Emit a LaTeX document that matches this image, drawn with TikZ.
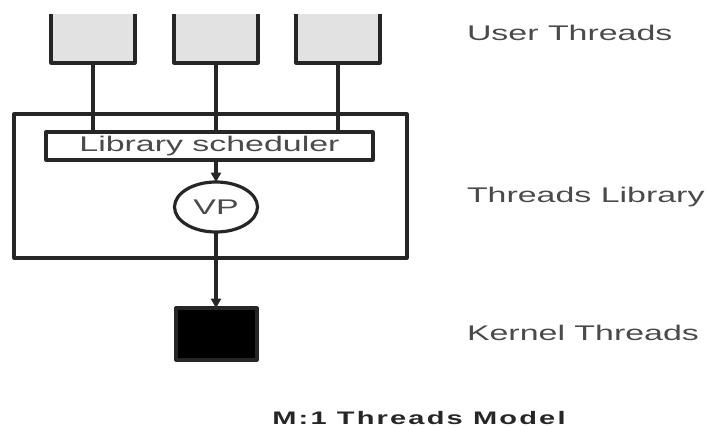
\documentclass[tikz,border=0pt]{standalone}
\usepackage{fontspec}
\setmainfont{Liberation Sans}[FakeStretch=1.6]
\newfontfamily\titlefont{Liberation Sans Bold}[FakeStretch=1.6,LetterSpace=12]
\usetikzlibrary{arrows.meta,shapes.geometric}
\definecolor{linegray}{HTML}{262626}
\definecolor{textgray}{HTML}{4A4A4A}
\definecolor{boxgray}{HTML}{E2E2E2}
\begin{document}
\begin{tikzpicture}[x=0.75pt,y=-0.75pt,line join=round,line width=2.4pt,color=linegray,
  >={Triangle[length=7pt,width=7.5pt]},
  every node/.style={font=\fontsize{15.9}{19}\selectfont,text=textgray,inner sep=0pt,outer sep=0pt},
  ubox/.style={fill=boxgray,minimum width=84*0.75pt,minimum height=49*0.75pt},
  label/.style={anchor=west}]
\useasboundingbox (0,0) rectangle (708,427);
\def\ytop{38.5}
% user threads
\foreach \i/\x in {1/93,2/216,3/338}{
\node[ubox] (u\i) at (\x,\ytop) {};
\draw (u\i.north west)--(u\i.south west)--(u\i.south east)--(u\i.north east);
}
% threads library
\node[draw,minimum width=393*0.75pt,minimum height=144*0.75pt] (lib) at (210.5,186) {};
\node[draw,minimum width=327*0.75pt,minimum height=28*0.75pt] (sched) at (209.5,146) {Library scheduler};
\node[draw,ellipse,minimum width=83*0.75pt,minimum height=50*0.75pt] (vp) at (216,207) {VP};
% kernel thread
\node[draw,fill=black,minimum width=81*0.75pt,minimum height=52*0.75pt] (kt) at (216.5,334) {};
\foreach \i in {1,2,3}
\draw (u\i.south)--(u\i.south |- sched.north);
\draw[->] (sched.south -| vp.north)--(vp.north);
\draw[->] (vp.south)--(vp.south |- kt.north);
% labels
\node[label] (lu) at (467,33) {User Threads};
\node[label] (ll) at (467,197) {Threads Library};
\node[label] (lk) at (467,333) {Kernel Threads};
\node[anchor=base,text=black!85,font=\titlefont\fontsize{13.6}{16}\selectfont] (title) at (419,425) {M:1 Threads Model};
\end{tikzpicture}
\end{document}
